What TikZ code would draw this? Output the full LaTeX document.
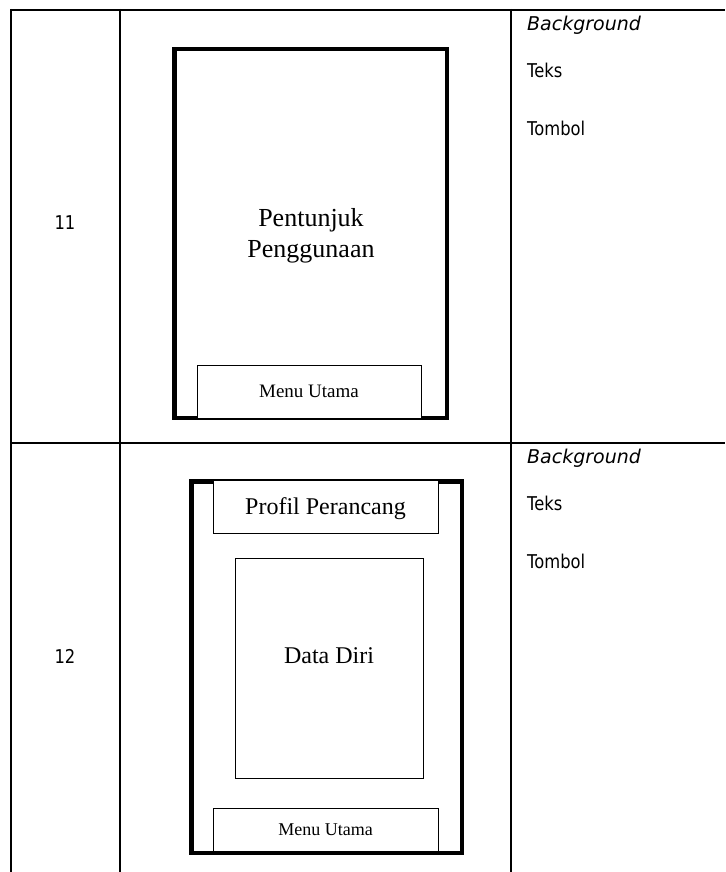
\documentclass[tikz,border=0pt]{standalone}
\usepackage{fontspec}
\setmainfont{Liberation Serif}
\newfontfamily\uifont{DejaVu Sans}[FakeStretch=0.86]
\newfontfamily\uiwide{DejaVu Sans}
\begin{document}
\begin{tikzpicture}[x=1pt,y=-1pt,
  rule/.style={line width=2pt},
  screen/.style={draw, line width=4.5pt, minimum width=#1, inner sep=0pt},
  panel/.style={draw, fill=white, line width=1pt, inner sep=0pt, text depth=0pt},
  note/.style={font=\uifont\fontsize{19}{22}\selectfont, anchor=west, inner sep=0pt},
  italnote/.style={font=\uiwide\itshape\fontsize{19}{22}\selectfont, anchor=west, inner sep=0pt},
  rowno/.style={font=\uifont\fontsize{19}{22}\selectfont, inner sep=0pt}
]
\useasboundingbox (0,0) rectangle (725,872);

% table rules
\draw[rule] (10,10) -- (725,10);
\draw[rule] (10,443) -- (725,443);
\draw[rule] (11,9) -- (11,872);
\draw[rule] (120,9) -- (120,872);
\draw[rule] (511,9) -- (511,872);

% row numbers
\node[rowno] (n11) at (65,223) {11};
\node[rowno] (n12) at (65,656) {12};

% screen 11: user guide
\node[screen=272.5pt, minimum height=368.5pt] (scrA) at (310.5,233.5) {};
\node[font=\fontsize{26}{31}\selectfont, align=center] (guide) at (311,236) {Pentunjuk\\Penggunaan};
\node[panel, minimum width=224pt, minimum height=53pt, font=\fontsize{19}{22}\selectfont] (menuA) at (309,391.5) {Menu Utama};

% screen 12: designer profile
\node[screen=270.5pt, minimum height=371.5pt] (scrB) at (326.5,667) {};
\node[panel, minimum width=225pt, minimum height=53pt, font=\fontsize{24}{28}\selectfont] (profil) at (325.5,506.5) {Profil Perancang};
\node[panel, minimum width=188pt, minimum height=220pt] (data) at (329,668) {};
\node[font=\fontsize{24}{28}\selectfont] (dataText) at (329,656) {Data Diri};
\node[panel, minimum width=225pt, minimum height=43pt, font=\fontsize{18}{21}\selectfont] (menuB) at (325.5,829.5) {Menu Utama};

% element lists
\node[italnote] (bgA) at (527,25) {Background};
\node[note] (txA) at (527,70) {Teks};
\node[note] (tbA) at (527,128) {Tombol};
\node[italnote] (bgB) at (527,458) {Background};
\node[note] (txB) at (527,503) {Teks};
\node[note] (tbB) at (527,561) {Tombol};
\end{tikzpicture}
\end{document}
